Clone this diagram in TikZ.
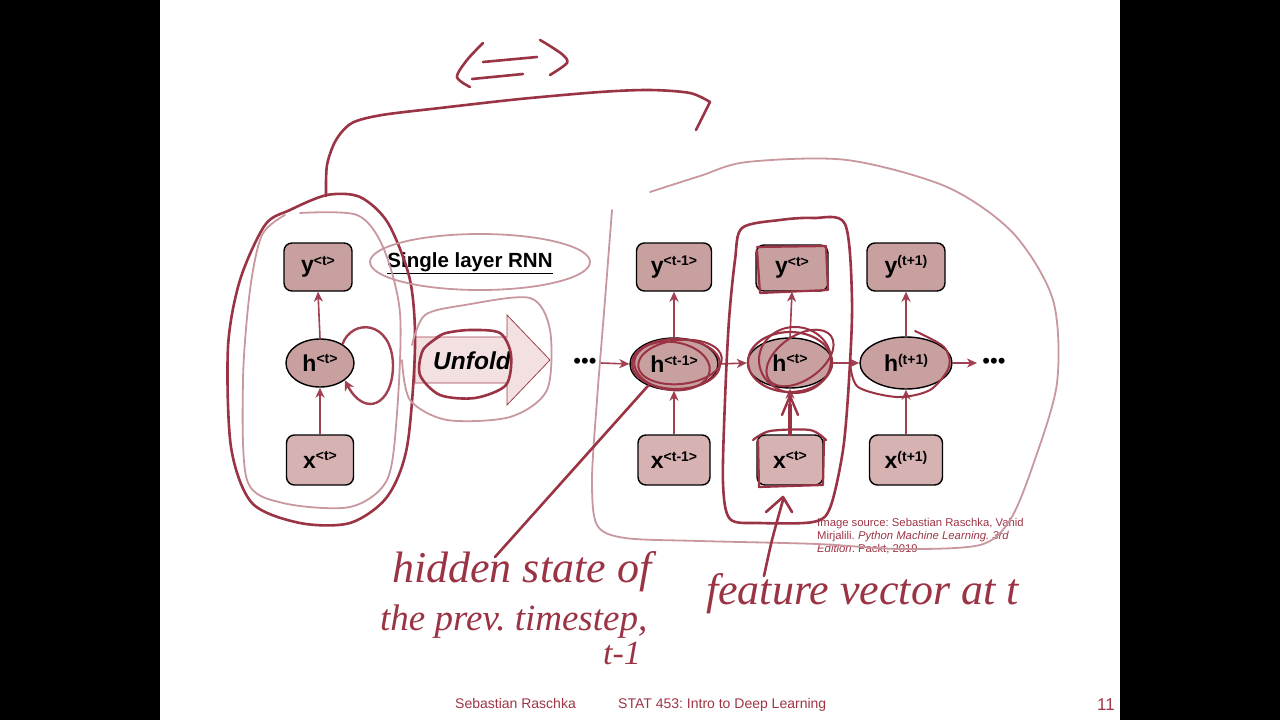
\documentclass[tikz,border=0pt]{standalone}
\usepackage{fontspec}
\setmainfont{Liberation Sans}
\newfontfamily\hand{Liberation Serif}
\usetikzlibrary{shapes.geometric,arrows.meta}
\definecolor{ink}{HTML}{9A3344}
\definecolor{lightink}{HTML}{C8989E}
\definecolor{nodefill}{HTML}{C9A0A0}
\definecolor{xfill}{HTML}{D6B2B2}
\definecolor{arr}{HTML}{A04050}
\definecolor{unf}{HTML}{F3E0E0}
\definecolor{foot}{HTML}{9E3545}
\newcommand\nlab[2]{{\fontsize{23}{23}\selectfont\bfseries #1\raisebox{7.5pt}{\fontsize{14}{14}\selectfont #2}}}
\frenchspacing
\begin{document}
\begin{tikzpicture}[x=1pt,y=-1pt,
  box/.style={draw=black,line width=1.4pt,rounded corners=8pt,fill=nodefill,inner sep=0pt,minimum height=48pt},
  xbox/.style={box,fill=xfill},
  hell/.style={ellipse,draw=black,line width=1.4pt,fill=nodefill,inner sep=0pt,minimum height=50pt},
  flow/.style={draw=arr,line width=1.6pt,-{Stealth[length=10pt,width=9pt,inset=3pt]}},
  inkd/.style={draw=ink,line width=2.6pt,line cap=round,line join=round},
  inkl/.style={draw=lightink,line width=1.8pt,line cap=round,line join=round},
  hw/.style={text=ink,anchor=base west,inner sep=0pt},
  dots/.style={font=\fontsize{22}{22}\selectfont,inner sep=0pt},
]
% background
\fill[white] (0,0) rectangle (1280,720);
\fill[black] (0,0) rectangle (160,720);
\fill[black] (1120,0) rectangle (1280,720);
\useasboundingbox (0,0) rectangle (1280,720);

% ---- left column ----
\node[box,minimum width=68pt] (ya) at (318,267) {\nlab{y}{<t>}};
\node[hell,minimum width=68pt,minimum height=48pt] (ha) at (320,363) {\nlab{h}{<t>}};
\node[xbox,minimum width=67pt,minimum height=50pt] (xa) at (320,460) {\nlab{x}{<t>}};
\draw[flow] (xa.north) -- (ha.south);
\draw[flow] (ha.north) -- (ya.south);
\draw[draw=arr,line width=2.4pt,-{Stealth[length=10pt,width=10pt,inset=3pt]}]
  (ha.40) .. controls (352,318) and (392,320) .. (393,365)
  .. controls (393,405) and (365,418) .. (ha.-35);

\node[font=\fontsize{20.5}{22}\selectfont\bfseries,inner sep=0pt] (title) at (470,263) {\underline{Single layer RNN}};

% unfold arrow
\draw[draw=arr,line width=0.8pt,fill=unf] (415,337) -- (507,337) -- (507,315) -- (550,360) -- (507,405) -- (507,383) -- (415,383) -- cycle;
\node[font=\fontsize{24.5}{26}\selectfont\bfseries\itshape,inner sep=0pt] (unfold) at (472,361) {Unfold};

% ---- unfolded ----
\node[dots] (dl) at (585,363) {•••};
\node[box,minimum width=75pt] (yb) at (674,267) {\nlab{y}{<t-1>}};
\node[box,minimum width=72pt,minimum height=46pt] (yc) at (792,268) {\nlab{y}{<t>}};
\node[box,minimum width=78pt] (yd) at (906,267) {\nlab{y}{(t+1)}};
\node[hell,minimum width=88pt,minimum height=52pt] (hb) at (674,364) {\nlab{h}{<t-1>}};
\node[hell,minimum width=85pt] (hc) at (790,363) {\nlab{h}{<t>}};
\node[hell,minimum width=92pt,minimum height=52pt] (hd) at (906,363) {\nlab{h}{(t+1)}};
\node[xbox,minimum width=72pt,minimum height=50pt] (xb) at (674,460) {\nlab{x}{<t-1>}};
\node[xbox,minimum width=66pt,minimum height=50pt] (xc) at (790,460) {\nlab{x}{<t>}};
\node[xbox,minimum width=73pt,minimum height=50pt] (xd) at (906,460) {\nlab{x}{(t+1)}};
\node[dots] (dr) at (994,363) {•••};
\coordinate (inl) at (601,363);
\coordinate (outr) at (977,363);

\draw[flow] (inl) -- (hb.west);
\draw[flow] (hb.east) -- (hc.west);
\draw[flow] (hc.east) -- (hd.west);
\draw[flow] (hd.east) -- (outr);
\foreach \n in {b,c,d}{
  \draw[flow] (x\n.north) -- (h\n.south);
  \draw[flow] (h\n.north) -- (y\n.south);
}

% source text
\node[anchor=north west,inner sep=0pt,text=foot,font=\fontsize{11.3}{13}\selectfont,align=left] (src) at (817,518)
 {Image source: Sebastian Raschka, Vahid\\Mirjalili. \textit{Python Machine Learning. 3rd}\\\textit{Edition}. Packt, 2019};

% footer
\node[anchor=base west,inner sep=0pt,text=foot,font=\fontsize{14}{16}\selectfont] (fa) at (455,708) {Sebastian Raschka};
\node[anchor=base west,inner sep=0pt,text=foot,font=\fontsize{14}{16}\selectfont] (fb) at (618,708) {STAT 453: Intro to Deep Learning};
\node[anchor=base east,inner sep=0pt,text=foot,font=\fontsize{17}{18}\selectfont] (fc) at (1115,710) {11};

% ---- handwritten annotations ----
% <=>
\draw[inkd] plot[smooth] coordinates {(483,43) (467,60) (457,77) (470,87)};
\draw[inkd] (483,62) -- (537,57);
\draw[inkd] (472,79) -- (523,74);
\draw[inkd] plot[smooth] coordinates {(540,40) (550,46) (563,55) (567,63) (550,75)};
% top bracket
\draw[inkd] plot[smooth] coordinates {(326,196) (327,165) (336,140) (352,123) (382,115) (440,108) (520,99) (600,92) (650,90) (690,93) (710,102)} -- (696,130);
% left loops
\draw[inkd] plot[smooth cycle] coordinates {(327,195) (360,197) (388,223) (410,280) (415,347) (407,447) (387,497) (350,523) (300,523) (252,503) (231,447) (228,347) (240,280) (265,225) (290,210)};
\draw[inkl] plot[smooth] coordinates {(300,213) (357,215) (383,247) (400,313) (397,413) (387,480) (350,507) (283,503) (247,480) (243,380) (250,290) (262,235) (285,215)};
% single layer ellipse
\draw[inkl] (480,262) ellipse[x radius=110,y radius=28];
% unfold ellipses
\draw[inkl] plot[smooth] coordinates {(412,345) (425,315) (465,305) (530,298) (550,330) (547,390) (510,417) (447,420) (410,400) (402,360)};
\draw[inkd] plot[smooth] coordinates {(436,338) (446,333) (470,330) (500,333) (511,355) (506,385) (475,398) (440,395) (420,375) (423,350) (440,336)};
% right big light loop
\draw[inkl] plot[smooth] coordinates {(612,210) (605,300) (597,400) (592,480) (597,525) (625,538) (700,541) (817,544) (900,549) (980,545) (1010,520) (1033,465) (1057,383) (1053,300) (1013,233) (947,187) (847,160) (747,162) (700,176) (650,192)};
% rounded rect around h<t> column
\draw[inkd] plot[smooth cycle] coordinates {(742,228) (780,220) (813,218) (845,224) (852,300) (849,380) (843,450) (830,508) (813,522) (760,523) (730,519) (723,483) (725,400) (729,320) (735,260)};
% scribbles
\draw[inkd,line width=2.2pt] (676,364) ellipse[x radius=44,y radius=25];
\draw[inkd,line width=2pt,rotate around={-8:(672,366)}] (672,366) ellipse[x radius=38,y radius=24];
\draw[inkd,line width=2pt,rotate around={6:(680,362)}] (680,362) ellipse[x radius=42,y radius=22];
\draw[inkd,line width=2.2pt] (790,362) ellipse[x radius=42,y radius=30];
\draw[inkd,line width=2pt] (795,360) ellipse[x radius=36,y radius=33];
\draw[inkd,line width=2pt,rotate around={35:(800,358)}] (800,358) ellipse[x radius=38,y radius=22];
\draw[inkd,line width=2pt] plot[smooth] coordinates {(915,331) (944,347) (949,367) (930,390) (897,397) (858,387) (850,363)};
\draw[inkd,line width=2.2pt] (757,247) -- (826,246) -- (828,290) -- (760,293) -- (757,250);
\draw[inkd,line width=2.2pt] plot[smooth] coordinates {(753,440) (770,431) (810,430) (826,440)};
\draw[inkd,line width=2.2pt] (758,440) -- (759,487) -- (823,485) -- (824,440);
\draw[inkd,line width=3.6pt] (xc.north) -- (790,405);
\draw[inkd,line width=2.4pt] (782,415) -- (790,396) -- (798,415);
\draw[inkd] (hb.-140) -- (495,557);
\draw[inkd] plot[smooth] coordinates {(764,576) (772,540) (783,500)};
\draw[inkd] (766,512) -- (783,497) -- (792,512);
% handwritten text
\node[hw,font=\hand\itshape\fontsize{44}{48}\selectfont] (t1) at (392,582) {hidden state of};
\node[hw,font=\hand\itshape\fontsize{37}{40}\selectfont] (t2) at (380,630) {the prev. timestep,};
\node[hw,font=\hand\itshape\fontsize{34}{38}\selectfont] (t3) at (603,664) {t-1};
\node[hw,font=\hand\itshape\fontsize{44}{48}\selectfont] (t4) at (706,604) {feature vector at t};
\end{tikzpicture}
\end{document}
